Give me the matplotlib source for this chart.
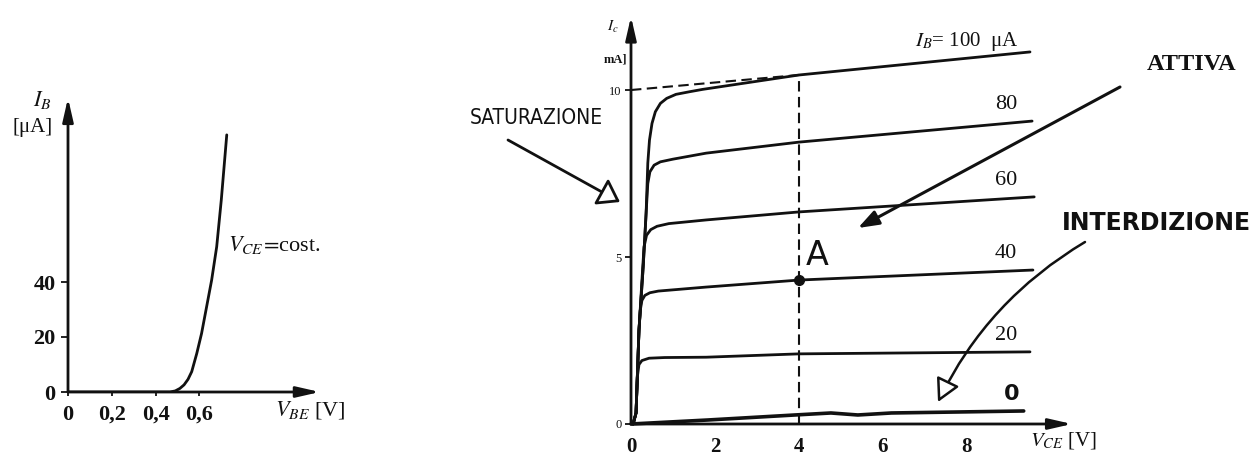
import matplotlib
matplotlib.use("Agg")
import matplotlib.pyplot as plt

plt.rcParams["mathtext.fontset"] = "stix"
plt.rcParams["font.family"] = ["Liberation Serif", "DejaVu Serif"]

INK = "#111111"
HAND = ["DejaVu Sans"]

# ---------------- input characteristic I_B(V_BE) ----------------
vbe = [0.0, 0.30, 0.466, 0.490, 0.511, 0.530, 0.548, 0.565, 0.588, 0.610,
       0.633, 0.656, 0.679, 0.700, 0.725]
ib = [0.0, 0.0, 0.0, 0.4, 1.3, 2.6, 4.6, 7.4, 14.0, 21.3,
      31.0, 40.7, 52.8, 69.8, 93.5]
vbe_ticks = [0, 0.2, 0.4, 0.6]
vbe_ticklabels = ["0", "0,2", "0,4", "0,6"]
ib_ticks = [0, 20, 40]

# ---------------- output characteristics I_C(V_CE) ----------------
ib_labels = ["100", "80", "60", "40", "20", "0"]
vce_100 = [0.05, 0.12, 0.19, 0.29, 0.36, 0.40, 0.44, 0.50, 0.58, 0.70, 0.85,
           1.07, 1.40, 1.71, 4.0, 9.5]
ic_100 = [0.0, 0.33, 2.81, 4.7, 6.32, 7.81, 8.5, 9.0, 9.35, 9.6, 9.75,
          9.87, 9.95, 10.02, 10.45, 11.14]
vce_80 = [0.05, 0.12, 0.19, 0.29, 0.36, 0.40, 0.45, 0.55, 0.70, 1.00, 1.79, 4.0, 9.55]
ic_80 = [0.0, 0.33, 2.81, 4.7, 6.32, 7.2, 7.55, 7.75, 7.85, 7.93, 8.11, 8.44, 9.07]
vce_60 = [0.05, 0.12, 0.19, 0.27, 0.31, 0.37, 0.47, 0.62, 0.90, 1.79, 4.0, 9.6]
ic_60 = [0.0, 0.33, 2.81, 4.5, 5.3, 5.65, 5.82, 5.92, 6.0, 6.11, 6.35, 6.8]
vce_40 = [0.05, 0.12, 0.19, 0.22, 0.26, 0.33, 0.45, 0.65, 1.79, 4.0, 9.57]
ic_40 = [0.0, 0.33, 2.81, 3.4, 3.7, 3.85, 3.93, 3.98, 4.1, 4.31, 4.61]
vce_20 = [0.05, 0.12, 0.15, 0.19, 0.26, 0.43, 0.8, 1.79, 4.0, 9.5]
ic_20 = [0.0, 0.33, 1.4, 1.78, 1.9, 1.97, 1.99, 2.0, 2.1, 2.16]
vce_0 = [0.0, 1.83, 3.9, 4.76, 5.4, 6.2, 7.8, 9.35]
ic_0 = [0.0, 0.12, 0.27, 0.33, 0.27, 0.33, 0.36, 0.39]

vce_ticks = [0, 2, 4, 6, 8]
ic_ticks = [0, 5, 10]

# operating point A and its guide lines
vce_A, ic_A = 4.0, 4.31
ic_sat_ref = 10.0
ic_100_at_A = 10.45

curves_vce = [vce_100, vce_80, vce_60, vce_40, vce_20, vce_0]
curves_ic = [ic_100, ic_80, ic_60, ic_40, ic_20, ic_0]

fig = plt.figure(figsize=(12.6, 4.55), dpi=100)
fig.patch.set_facecolor("white")
W, H = 1260.0, 455.0


def axis_arrow(ax, x0, y0, x1, y1):
    ax.annotate("", xy=(x1, y1), xytext=(x0, y0), annotation_clip=False,
                arrowprops=dict(arrowstyle="-|>,head_length=1.4,head_width=0.32",
                                mutation_scale=10, lw=2.0, color=INK,
                                shrinkA=0, shrinkB=0))


# ================= left panel =================
axL = fig.add_axes([68 / W, 63 / H, 256.2 / W, 297 / H])
axL.set_xlim(0, 1.17)
axL.set_ylim(0, 108)
for s in axL.spines.values():
    s.set_visible(False)
axL.patch.set_alpha(0)
axis_arrow(axL, 0, 0, 1.15, 0)
axis_arrow(axL, 0, 0, 0, 106.9)
axL.plot(vbe, ib, color=INK, lw=2.0, solid_capstyle="round",
         solid_joinstyle="round")

axL.set_xticks(vbe_ticks, vbe_ticklabels)
axL.set_yticks(ib_ticks)
axL.tick_params(axis="x", direction="out", length=3, width=1.3, pad=6,
                labelsize=16, colors=INK)
axL.tick_params(axis="y", direction="out", length=5, width=1.3, pad=4,
                labelsize=16, colors=INK)
for t in axL.get_xticklabels() + axL.get_yticklabels():
    t.set_fontweight("bold")

axL.text(-0.119, 106.2, r"$I_B$", ha="center", va="center", fontsize=16,
         color=INK, clip_on=False)
axL.text(-0.164, 96, "[μA]", ha="center", va="center", fontsize=15,
         color=INK, clip_on=False)
axL.text(0.73, 53.5, r"$V_{CE}\!=\!$cost.", ha="left", va="center",
         fontsize=16, color=INK, clip_on=False)
axL.text(1.105, -6.5, r"$V_{BE}$ [V]", ha="center", va="center",
         fontsize=16, color=INK, clip_on=False)

# ================= right panel =================
axR = fig.add_axes([631 / W, 31 / H, 445.2 / W, 410.8 / H])
axR.set_xlim(0, 10.6)
axR.set_ylim(0, 12.3)
for s in axR.spines.values():
    s.set_visible(False)
axR.patch.set_alpha(0)
axis_arrow(axR, 0, 0, 10.5, 0)
axis_arrow(axR, 0, 0, 0, 12.2)

for i, (vx, iy) in enumerate(zip(curves_vce, curves_ic)):
    axR.plot(vx, iy, color=INK, lw=2.6 if i == 5 else 2.0,
             solid_capstyle="round", solid_joinstyle="round", clip_on=False)

# guide lines through the operating point
dash = (0, (5, 2.6))
axR.plot([vce_A, vce_A], [0, ic_100_at_A], color=INK, lw=1.5, ls=dash)
axR.plot([0, vce_A], [ic_sat_ref, ic_100_at_A], color=INK, lw=1.5, ls=dash)
axR.plot([vce_A], [ic_A], "o", color=INK, ms=7)
axR.text(vce_A + 0.43, ic_A + 0.75, "A", family=HAND, fontsize=24,
         ha="center", va="center", color=INK)

axR.set_xticks(vce_ticks)
axR.set_yticks(ic_ticks)
axR.tick_params(axis="x", length=0, pad=9, labelsize=15, colors=INK)
axR.tick_params(axis="y", direction="out", length=4, width=1.3, pad=3,
                labelsize=9, colors=INK)
for t in axR.get_xticklabels():
    t.set_fontweight("bold")

# curve labels
axR.text(8.0, 11.44, r"$I_B$" + "= 100  μA", ha="center", va="center",
         fontsize=15, color=INK)
for lbl, iy in zip(ib_labels[1:5], curves_ic[1:5]):
    axR.text(8.93, iy[-1] + 0.5, lbl, ha="center", va="center",
             fontsize=16, color=INK)
axR.text(9.07, ic_0[-1] + 0.5, ib_labels[5], ha="center", va="center",
         fontsize=16, fontweight="bold", family=HAND, color=INK)

axR.text(10.29, -0.48, r"$V_{CE}$ [V]", ha="center", va="center",
         fontsize=15, color=INK, clip_on=False)
axR.text(-0.43, 11.9, r"$I_c$", ha="center", va="center", fontsize=11,
         color=INK, clip_on=False)
axR.text(-0.38, 10.9, "mA]", ha="center", va="center", fontsize=9,
         fontweight="bold", color=INK, clip_on=False)

# ================= region annotations =================
fig.text(1192 / W, (H - 65) / H, "ATTIVA", ha="center", va="center",
         fontsize=17.5, fontweight="bold", color=INK)
fig.text(536 / W, (H - 118) / H, "SATURAZIONE", ha="center", va="center",
         fontsize=15, family=HAND, fontstretch="condensed", color=INK)
fig.text(1156 / W, (H - 223) / H, "INTERDIZIONE", ha="center", va="center",
         fontsize=17, family=HAND, fontweight="bold", color=INK)

fig_px = dict(xycoords="figure pixels", textcoords="figure pixels",
              annotation_clip=False)
axR.annotate("", xy=(858, H - 228), xytext=(1120, H - 87), **fig_px,
             arrowprops=dict(arrowstyle="-|>,head_length=1.25,head_width=0.45",
                             mutation_scale=10, lw=2.2, color=INK,
                             shrinkA=0, shrinkB=0))
axR.annotate("", xy=(620, H - 202), xytext=(508, H - 140), **fig_px,
             arrowprops=dict(arrowstyle="-|>,head_length=1.3,head_width=0.9",
                             mutation_scale=10, lw=2.0, ec=INK, fc="white",
                             shrinkA=0, shrinkB=0))
axR.annotate("", xy=(938, H - 402), xytext=(1085, H - 242), **fig_px,
             arrowprops=dict(arrowstyle="-|>,head_length=1.4,head_width=0.75",
                             mutation_scale=10, lw=1.8, ec=INK, fc="white",
                             shrinkA=0, shrinkB=0,
                             connectionstyle="arc3,rad=0.15"))

fig.savefig("out.png", dpi=100, facecolor="white")
